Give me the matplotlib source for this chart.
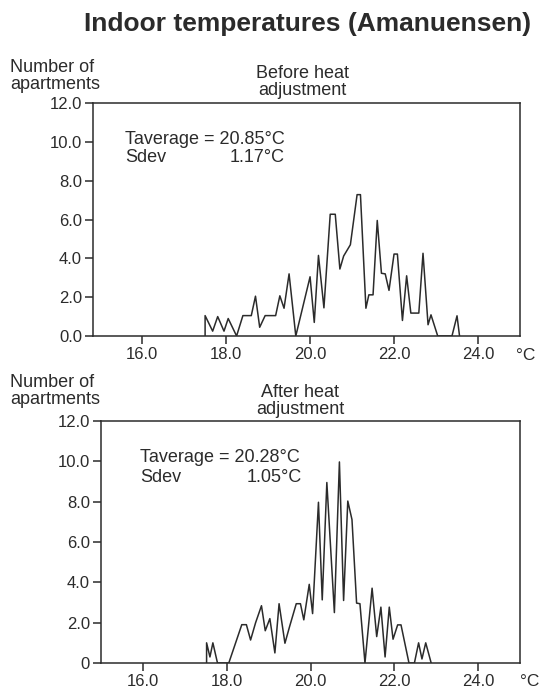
import matplotlib
matplotlib.use("Agg")
import matplotlib.pyplot as plt

plt.rcParams["font.family"] = ["Liberation Sans", "DejaVu Sans"]

INK = "#2b2b2b"
W, H = 542, 693

# Apartment counts per indoor temperature, before the heat adjustment
before_temp = [17.5, 17.5, 17.68, 17.8, 17.95, 18.05, 18.25, 18.4, 18.6, 18.7, 18.8, 18.93,
               19.18, 19.28, 19.38, 19.5, 19.66, 20.0, 20.1, 20.2, 20.33, 20.48, 20.6, 20.71,
               20.8, 20.96, 21.12, 21.2, 21.33, 21.4, 21.5, 21.6, 21.7, 21.79, 21.88, 22.0,
               22.08, 22.2, 22.3, 22.4, 22.59, 22.69, 22.81, 22.88, 23.04, 23.38, 23.5, 23.56]
before_count = [0, 1.05, 0.25, 1.0, 0.25, 0.9, 0, 1.05, 1.05, 2.05, 0.45, 1.05,
                1.05, 2.07, 1.43, 3.2, 0, 3.05, 0.7, 4.15, 1.45, 6.27, 6.27, 3.45,
                4.12, 4.7, 7.28, 7.28, 1.43, 2.12, 2.12, 5.95, 3.23, 3.2, 2.35, 4.22,
                4.22, 0.8, 3.1, 1.18, 1.18, 4.26, 0.58, 1.09, 0, 0, 1.04, 0]

# ... and after the heat adjustment
after_temp = [17.52, 17.52, 17.6, 17.67, 17.78, 18.05, 18.36, 18.47, 18.57, 18.69, 18.83,
              18.92, 19.03, 19.15, 19.25, 19.39, 19.5, 19.66, 19.76, 19.84, 19.97, 20.05,
              20.19, 20.28, 20.39, 20.57, 20.69, 20.79, 20.89, 20.99, 21.1, 21.18, 21.3,
              21.47, 21.58, 21.68, 21.78, 21.88, 21.97, 22.08, 22.16, 22.35, 22.48, 22.58,
              22.66, 22.75, 22.88]
after_count = [0, 1.0, 0.3, 1.0, 0, 0, 1.9, 1.9, 1.14, 2.0, 2.84,
               1.6, 2.2, 0.5, 2.94, 0.98, 1.8, 2.94, 2.94, 2.14, 3.9, 2.45,
               7.97, 3.13, 8.95, 2.5, 9.97, 3.1, 8.03, 7.11, 2.97, 2.94, 0,
               3.71, 1.31, 2.77, 0.3, 2.77, 1.18, 1.89, 1.89, 0, 0, 1.0,
               0.2, 1.0, 0]

x_ticks = [16, 18, 20, 22, 24]
x_ticklabels = ["16.0", "18.0", "20.0", "22.0", "24.0"]
y_ticks = [0, 2, 4, 6, 8, 10, 12]
before_ylabels = ["0.0", "2.0", "4.0", "6.0", "8.0", "10.0", "12.0"]
after_ylabels = ["0", "2.0", "4.0", "6.0", "8.0", "10.0", "12.0"]


def rect(left, top, right, bottom):
    """Axes rectangle from pixel edges"""
    return [left / W, 1 - bottom / H, (right - left) / W, (bottom - top) / H]


def ftext(fig, x, y, s, **kw):
    fig.text(x / W, 1 - y / H, s, color=INK, **kw)


def panel(fig, box, xlim, temps, counts, ylabels):
    ax = fig.add_axes(rect(*box))
    ax.plot(temps, counts, color=INK, lw=1.1)
    ax.set_xlim(*xlim)
    ax.set_ylim(0, 12)
    ax.set_xticks(x_ticks)
    ax.set_xticklabels(x_ticklabels)
    ax.set_yticks(y_ticks)
    ax.set_yticklabels(ylabels)
    for sp in ax.spines.values():
        sp.set_color(INK)
        sp.set_linewidth(1.1)
    ax.tick_params(direction="out", length=6, width=1.1, color=INK,
                   labelcolor=INK, labelsize=12, pad=2)
    return ax


fig = plt.figure(figsize=(W / 100, H / 100), dpi=100)

ftext(fig, 308, 24, "Indoor temperatures (Amanuensen)", fontsize=19,
      fontweight="bold", ha="center", va="center")

# upper panel
ftext(fig, 10, 76, "Number of\napartments", fontsize=13, ha="left", va="center",
      linespacing=1.0)
ftext(fig, 302, 82, "Before heat\nadjustment", fontsize=13, ha="center", va="center",
      linespacing=1.0)
panel(fig, (93, 103, 520, 336), (14.83, 25.0), before_temp, before_count, before_ylabels)
ftext(fig, 526, 355, "°C", fontsize=12.5, ha="center", va="center")
ftext(fig, 125, 139, "Taverage = 20.85°C", fontsize=13, ha="left", va="center")
ftext(fig, 125, 157, "Sdev", fontsize=13, ha="left", va="center")
ftext(fig, 285, 157, "1.17°C", fontsize=13, ha="right", va="center")

# lower panel
ftext(fig, 10, 391, "Number of\napartments", fontsize=13, ha="left", va="center",
      linespacing=1.0)
ftext(fig, 300, 401, "After heat\nadjustment", fontsize=13, ha="center", va="center",
      linespacing=1.0)
panel(fig, (101, 421, 520, 663), (15.0, 25.0), after_temp, after_count, after_ylabels)
ftext(fig, 530, 681, "°C", fontsize=12.5, ha="center", va="center")
ftext(fig, 140, 457, "Taverage = 20.28°C", fontsize=13, ha="left", va="center")
ftext(fig, 140, 477, "Sdev", fontsize=13, ha="left", va="center")
ftext(fig, 302, 477, "1.05°C", fontsize=13, ha="right", va="center")

fig.savefig("out.png", dpi=100, facecolor="white")
